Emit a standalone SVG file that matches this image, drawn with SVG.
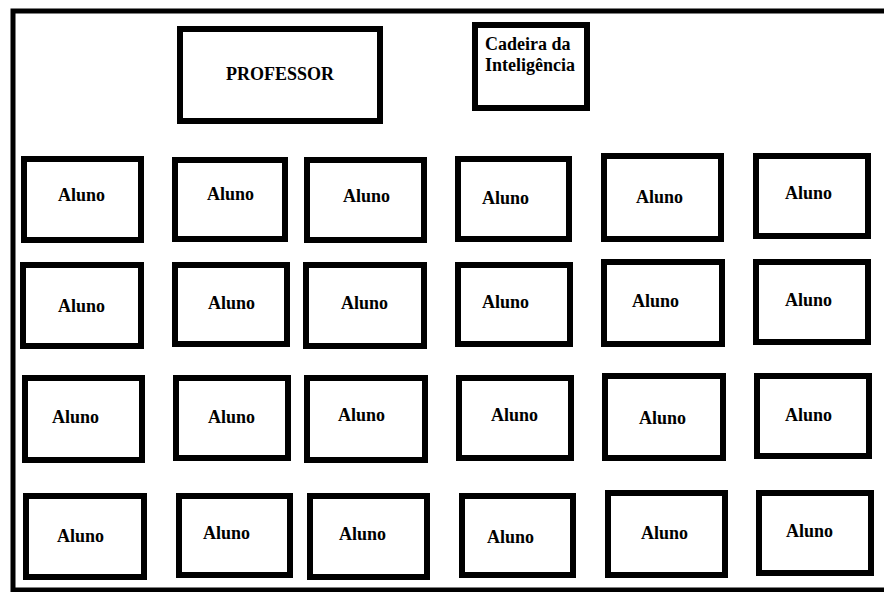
<svg xmlns="http://www.w3.org/2000/svg" width="884" height="592" viewBox="0 0 884 592">
<style>
.b{fill:#fff;stroke:#000;stroke-width:6}
text{font-family:'Liberation Serif','Times New Roman',serif;font-weight:bold;font-size:18px;fill:#000}
</style>
<rect x="0" y="0" width="884" height="592" fill="#fff"/>
<rect id="room" x="13" y="11" width="880" height="579" fill="none" stroke="#000" stroke-width="5"/>
<g id="professor"><rect class="b" x="180" y="29" width="200" height="92"/><text x="226" y="80">PROFESSOR</text></g>
<g id="cadeira"><rect class="b" x="475" y="25" width="112" height="83"/><text x="485" y="50">Cadeira da</text><text x="485" y="71">Inteligência</text></g>
<g id="connectors"></g>
<g id="a11"><rect class="b" x="24" y="159" width="117" height="81"/><text x="58" y="201">Aluno</text></g>
<g id="a12"><rect class="b" x="175" y="160" width="110" height="79"/><text x="207" y="200">Aluno</text></g>
<g id="a13"><rect class="b" x="307" y="160" width="117" height="80"/><text x="343" y="202">Aluno</text></g>
<g id="a14"><rect class="b" x="458" y="159" width="111" height="80"/><text x="482" y="204">Aluno</text></g>
<g id="a15"><rect class="b" x="604" y="156" width="117" height="83"/><text x="636" y="203">Aluno</text></g>
<g id="a16"><rect class="b" x="756" y="156" width="112" height="80"/><text x="785" y="199">Aluno</text></g>
<g id="a21"><rect class="b" x="23" y="265" width="118" height="81"/><text x="58" y="312">Aluno</text></g>
<g id="a22"><rect class="b" x="175" y="265" width="112" height="79"/><text x="208" y="309">Aluno</text></g>
<g id="a23"><rect class="b" x="306" y="265" width="118" height="81"/><text x="341" y="309">Aluno</text></g>
<g id="a24"><rect class="b" x="458" y="265" width="112" height="79"/><text x="482" y="308">Aluno</text></g>
<g id="a25"><rect class="b" x="604" y="262" width="118" height="82"/><text x="632" y="307">Aluno</text></g>
<g id="a26"><rect class="b" x="756" y="262" width="112" height="80"/><text x="785" y="306">Aluno</text></g>
<g id="a31"><rect class="b" x="25" y="378" width="117" height="82"/><text x="52" y="423">Aluno</text></g>
<g id="a32"><rect class="b" x="176" y="378" width="112" height="80"/><text x="208" y="423">Aluno</text></g>
<g id="a33"><rect class="b" x="307" y="378" width="118" height="82"/><text x="338" y="421">Aluno</text></g>
<g id="a34"><rect class="b" x="459" y="378" width="112" height="80"/><text x="491" y="421">Aluno</text></g>
<g id="a35"><rect class="b" x="605" y="376" width="118" height="82"/><text x="639" y="424">Aluno</text></g>
<g id="a36"><rect class="b" x="757" y="376" width="112" height="80"/><text x="785" y="421">Aluno</text></g>
<g id="a41"><rect class="b" x="26" y="496" width="118" height="81"/><text x="57" y="542">Aluno</text></g>
<g id="a42"><rect class="b" x="179" y="496" width="111" height="79"/><text x="203" y="539">Aluno</text></g>
<g id="a43"><rect class="b" x="310" y="496" width="117" height="81"/><text x="339" y="540">Aluno</text></g>
<g id="a44"><rect class="b" x="462" y="496" width="111" height="79"/><text x="487" y="543">Aluno</text></g>
<g id="a45"><rect class="b" x="608" y="493" width="117" height="82"/><text x="641" y="539">Aluno</text></g>
<g id="a46"><rect class="b" x="759" y="493" width="112" height="80"/><text x="786" y="537">Aluno</text></g>
</svg>
